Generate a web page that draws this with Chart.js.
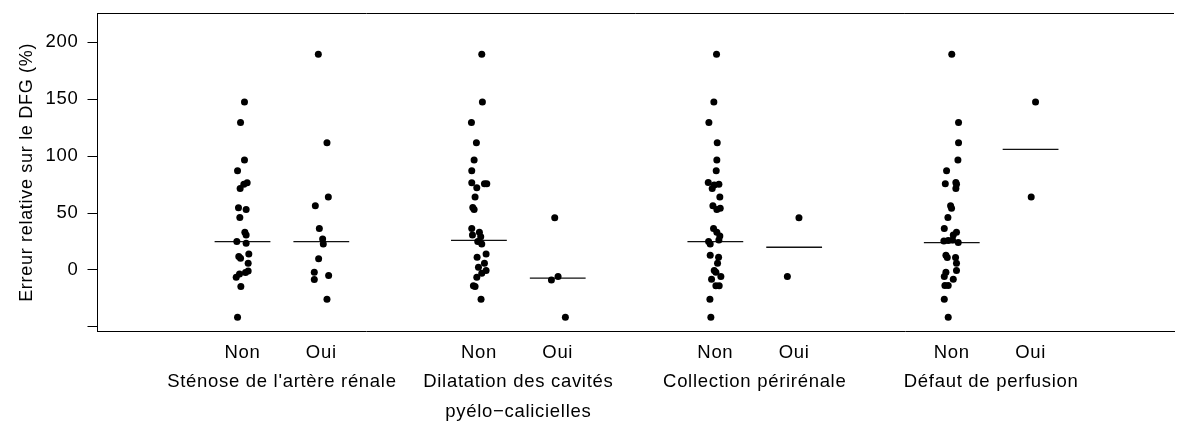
<!DOCTYPE html>
<html>
<head>
<meta charset="utf-8">
<script src="https://cdn.jsdelivr.net/npm/chart.js@4.4.1/dist/chart.umd.min.js"></script>
<style>
  html, body { margin: 0; padding: 0; background: #fff; overflow: hidden; }
  #chart { display: block; }
</style>
</head>
<body>
<canvas id="chart" width="1178" height="421"></canvas>
<script>
// --- categories ---
const groupLabels = [
    "Sténose de l'artère rénale",
    ["Dilatation des cavités", "pyélo−calicielles"],
    "Collection périrénale",
    "Défaut de perfusion"
];
const levelLabels = ['Non', 'Oui'];
const yTickValues = [-50, 0, 50, 100, 150, 200];

// --- values (relative error, %) ---
const stenoseNon = [147.6, 129.5, 96.5, 87.1, 76.6, 75.4, 71.6, 54.7, 53.2, 46.0, 33.1, 30.7, 25.0, 23.4, 14.0, 11.7, 10.2, 5.8, -0.9, -2.3, -3.5, -6.4, -14.6, -41.5];
const stenoseOui = [189.5, 111.7, 64.0, 56.4, 36.5, 27.2, 22.8, 9.9, -2.0, -5.0, -8.5, -25.7];
const dilatNon = [189.5, 147.6, 129.5, 111.7, 96.5, 87.1, 76.6, 75.8, 75.8, 72.2, 64.0, 54.9, 53.2, 36.5, 33.0, 30.7, 29.2, 24.9, 22.8, 14.0, 11.1, 5.8, 2.3, -0.6, -3.0, -6.4, -14.0, -14.6, -25.7];
const dilatOui = [45.9, -5.8, -8.8, -41.5];
const collecNon = [189.5, 147.6, 129.5, 111.7, 96.5, 87.1, 76.9, 71.6, 74.6, 75.4, 64.0, 56.4, 53.2, 54.1, 36.5, 33.0, 29.8, 26.3, 24.9, 22.8, 12.9, 11.1, 5.8, -0.6, -2.0, -5.8, -8.2, -14.0, -14.0, -25.7, -41.5];
const collecOui = [45.9, -5.8];
const defautNon = [189.5, 129.5, 111.7, 96.5, 87.1, 75.8, 76.9, 75.4, 71.6, 56.4, 54.1, 46.0, 36.5, 33.0, 30.7, 25.5, 25.8, 26.3, 24.0, 12.9, 10.9, 10.9, 5.8, -2.0, -0.6, -8.2, -5.8, -13.7, -13.7, -25.7, -41.5];
const defautOui = [147.6, 64.0];

// horizontal jitter of each point (category units)
const stenoseNonJit = [0.025, -0.025, 0.025, -0.063, 0.059, 0.017, -0.030, -0.051, 0.046, -0.034, 0.030, 0.046, -0.072, 0.046, 0.080, -0.047, -0.025, 0.072, 0.072, 0.038, -0.038, -0.080, -0.021, -0.063];
const stenoseOuiJit = [-0.038, 0.072, 0.089, -0.076, -0.025, 0.017, 0.025, -0.034, -0.089, 0.093, -0.089, 0.072];
const dilatNonJit = [0.036, 0.044, -0.095, -0.032, -0.061, -0.091, -0.091, 0.070, 0.100, -0.027, -0.049, -0.078, -0.061, -0.091, 0.006, -0.082, 0.023, -0.015, 0.036, 0.091, -0.023, 0.070, -0.006, 0.091, 0.036, -0.027, -0.070, -0.049, 0.027];
const dilatOuiJit = [-0.038, 0.004, -0.080, 0.097];
const collecNonJit = [0.015, -0.019, -0.082, 0.024, 0.019, 0.011, -0.090, -0.040, -0.014, 0.045, 0.057, -0.031, 0.019, 0.062, -0.023, 0.019, 0.057, 0.045, -0.086, -0.065, -0.065, 0.041, 0.028, -0.014, 0.007, 0.070, -0.048, 0.007, 0.049, -0.069, -0.057];
const collecOuiJit = [0.061, -0.086];
const defautNonJit = [0.000, 0.086, 0.086, 0.078, -0.066, -0.082, 0.052, 0.060, 0.052, -0.015, -0.003, -0.049, -0.095, 0.060, 0.019, -0.100, -0.045, 0.010, 0.082, -0.074, -0.057, 0.048, 0.060, -0.074, 0.060, 0.019, -0.095, -0.087, -0.045, -0.095, -0.045];
const defautOuiJit = [0.063, 0.008];

// median line of each column, in column order
const medians = [24.8, 24.8, 26.0, -7.3, 24.8, 19.9, 24.0, 105.9];

const columns = [
    [stenoseNon, stenoseNonJit], [stenoseOui, stenoseOuiJit],
    [dilatNon, dilatNonJit], [dilatOui, dilatOuiJit],
    [collecNon, collecNonJit], [collecOui, collecOuiJit],
    [defautNon, defautNonJit], [defautOui, defautOuiJit]
];

Chart.defaults.font.family = '"Liberation Sans", Arial, Helvetica, sans-serif';
Chart.defaults.font.size = 18.5;
Chart.defaults.color = '#000';

// column position: groups of two, one empty slot between groups
const colPos = (i) => 1 + 3 * Math.floor(i / 2) + (i % 2);
const HALF = 0.354;

const datasets = [];
columns.forEach(([vals, jit], i) => {
    const p = colPos(i);
    datasets.push({
        type: 'scatter',
        data: vals.map((v, k) => ({ x: p + jit[k], y: v })),
        backgroundColor: '#000',
        borderWidth: 0,
        pointRadius: 3.5
    });
});
medians.forEach((m, i) => {
    const p = colPos(i);
    datasets.push({
        type: 'line',
        data: [{ x: p - HALF, y: m }, { x: p + HALF, y: m }],
        borderColor: '#111',
        borderWidth: 1.3,
        pointRadius: 0
    });
});

// the original text is a little wider spaced than plain Arial
const spacing = {
    id: 'spacing',
    beforeLayout(c) { c.ctx.letterSpacing = '0.7px'; },
    beforeDraw(c) { c.ctx.letterSpacing = '0.7px'; }
};

const topBorder = {
    id: 'topBorder',
    afterDraw(c) {
        const { ctx, chartArea } = c;
        ctx.save();
        ctx.strokeStyle = '#000';
        ctx.lineWidth = 1;
        ctx.beginPath();
        ctx.moveTo(chartArea.left, Math.round(chartArea.top) + 0.5);
        ctx.lineTo(chartArea.right, Math.round(chartArea.top) + 0.5);
        ctx.stroke();
        ctx.restore();
    }
};

// no extra room for edge labels: the plot box is placed as in the original
const noPad = (s) => { s.paddingLeft = 0; s.paddingRight = 0; s.paddingTop = 0; s.paddingBottom = 0; };

const xRange = { min: -0.84, max: 12.82 };

new Chart(document.getElementById('chart'), {
    type: 'scatter',
    data: { datasets },
    options: {
        responsive: false,
        animation: false,
        events: [],
        layout: { padding: { top: 13, left: 0, right: 0, bottom: 0 } },
        plugins: { legend: { display: false }, tooltip: { enabled: false } },
        scales: {
            x: {
                type: 'linear', position: 'bottom', weight: 1,
                min: xRange.min, max: xRange.max,
                afterBuildTicks: (s) => { s.ticks = [1, 2, 4, 5, 7, 8, 10, 11].map(v => ({ value: v })); },
                afterFit: (s) => { s.height = 30; noPad(s); },
                ticks: {
                    autoSkip: false, maxRotation: 0, padding: 10,
                    callback: (v) => levelLabels[(v - 1) % 3]
                },
                grid: { display: false, drawTicks: false },
                border: { display: true, color: '#000', width: 1 }
            },
            x2: {
                type: 'linear', position: 'bottom', weight: 2,
                min: xRange.min, max: xRange.max,
                afterBuildTicks: (s) => { s.ticks = [1.5, 4.5, 7.5, 10.5].map(v => ({ value: v })); },
                afterFit: (s) => { s.height = 59.3; noPad(s); },
                ticks: {
                    autoSkip: false, maxRotation: 0, padding: 5,
                    font: { lineHeight: 1.62 },
                    callback: (v) => groupLabels[(v - 1.5) / 3]
                },
                grid: { display: false, drawTicks: false },
                border: { display: false }
            },
            y: {
                type: 'linear', position: 'left',
                min: -54.3, max: 225.8,
                afterBuildTicks: (s) => { s.ticks = yTickValues.map(v => ({ value: v })); },
                afterFit: (s) => { s.width = 97.5; noPad(s); },
                ticks: {
                    padding: 9,
                    callback: (v) => (v === -50 ? '' : v)
                },
                grid: { drawOnChartArea: false, drawTicks: true, tickLength: 10, color: '#000', lineWidth: 1 },
                border: { display: true, color: '#000', width: 1 },
                title: {
                    display: true,
                    text: 'Erreur relative sur le DFG (%)',
                    font: { size: 18 },
                    padding: { top: 16, bottom: 0 }
                }
            }
        }
    },
    plugins: [spacing, topBorder]
});
</script>
</body>
</html>
